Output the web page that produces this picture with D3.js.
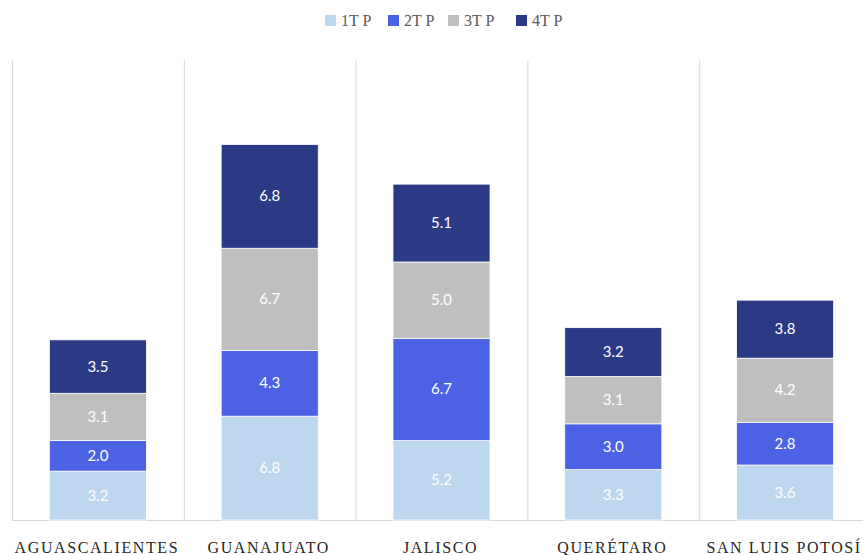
<!DOCTYPE html>
<html><head><meta charset="utf-8">
<script src="https://cdn.jsdelivr.net/npm/d3@7"></script>
<style>body{margin:0;background:#fff}svg{display:block}</style>
</head><body>
<svg id="c" width="863" height="555"></svg>
<script>
const categories = ["AGUASCALIENTES","GUANAJUATO","JALISCO","QUERÉTARO","SAN LUIS POTOSÍ"];
const seriesNames = ["1T P","2T P","3T P","4T P"];
const s1 = [3.2, 6.8, 5.2, 3.3, 3.6];
const s2 = [2.0, 4.3, 6.7, 3.0, 2.8];
const s3 = [3.1, 6.7, 5.0, 3.1, 4.2];
const s4 = [3.5, 6.8, 5.1, 3.2, 3.8];
const colors = ["#BDD7EE","#4A62E3","#BFBFBF","#2B3A85"];

const svg = d3.select("#c");
const x0 = 12, x1 = 871, yBase = 520, yTop = 62;
const x = d3.scaleBand().domain(categories).range([x0, x1]).paddingInner(0).paddingOuter(0);
const y = d3.scaleLinear().domain([0, 30]).range([yBase, yTop]);
const barW = x.bandwidth() * 0.565;

const rows = categories.map((c, i) => ({cat: c, "1T P": s1[i], "2T P": s2[i], "3T P": s3[i], "4T P": s4[i]}));
const stack = d3.stack().keys(seriesNames)(rows);

// separators
svg.append("g").selectAll("line").data(categories).join("line")
  .attr("x1", d => x(d) + 0.5).attr("x2", d => x(d) + 0.5)
  .attr("y1", 60).attr("y2", yBase)
  .attr("stroke", "#D9D9D9").attr("stroke-width", 1);

// baseline
svg.append("line").attr("x1", x0).attr("x2", 863).attr("y1", yBase + 0.5).attr("y2", yBase + 0.5)
  .attr("stroke", "#D9D9D9").attr("stroke-width", 1);

const g = svg.append("g");
stack.forEach((layer, li) => {
  const gl = g.append("g");
  gl.selectAll("rect").data(layer).join("rect")
    .attr("x", d => x(d.data.cat) + (x.bandwidth() - barW) / 2)
    .attr("width", barW)
    .attr("y", d => y(d[1]))
    .attr("height", d => y(d[0]) - y(d[1]))
    .attr("fill", colors[li])
    .attr("stroke", "#fff").attr("stroke-width", 0.8);
  gl.selectAll("text").data(layer).join("text")
    .attr("x", d => x(d.data.cat) + x.bandwidth() / 2)
    .attr("y", d => (y(d[0]) + y(d[1])) / 2 + 5)
    .attr("text-anchor", "middle")
    .attr("fill", "#fff")
    .attr("font-family", "Lato, 'Open Sans', sans-serif")
    .attr("font-size", 15)
    .text(d => (d[1] - d[0]).toFixed(1));
});

// category labels
svg.append("g").selectAll("text").data(categories).join("text")
  .attr("x", d => x(d) + x.bandwidth() / 2 - 1)
  .attr("y", 553)
  .attr("text-anchor", "middle")
  .attr("fill", "#262626")
  .attr("font-family", "'Liberation Serif', 'DejaVu Serif', serif")
  .attr("font-size", 16)
  .attr("letter-spacing", "1.6px")
  .text(d => d);

// legend
const legX = [325, 388, 448, 516];
const lg = svg.append("g");
seriesNames.forEach((n, i) => {
  lg.append("rect").attr("x", legX[i]).attr("y", 15).attr("width", 11).attr("height", 11).attr("fill", colors[i]);
  lg.append("text").attr("x", legX[i] + 16).attr("y", 26)
    .attr("fill", "#595959")
    .attr("font-family", "'Liberation Serif', 'DejaVu Serif', serif")
    .attr("font-size", 16).text(n);
});
</script>
</body></html>
